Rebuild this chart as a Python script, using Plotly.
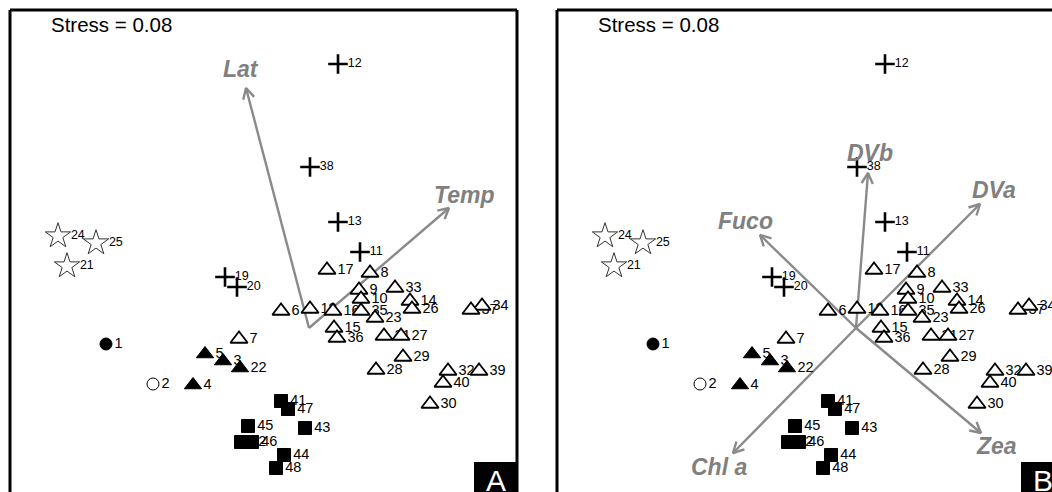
import math
import plotly.graph_objects as go

# ---- NMDS site scores (48 sites) ----
site_ids = list(range(1, 49))
nmds1 = [-0.812, -0.624, -0.344, -0.464, -0.416, -0.112, -0.280, 0.244, 0.200, 0.208,
         0.204, 0.116, 0.116, 0.404, 0.100, 0.096, 0.072, 0.004, -0.336, -0.288,
         -0.968, -0.276, 0.264, -1.004, -0.852, 0.412, 0.368, 0.268, 0.376, 0.484,
         0.300, 0.556, 0.344, 0.692, 0.208, 0.112, 0.648, 0.004, 0.680, 0.536,
         -0.112, -0.272, -0.016, -0.100, -0.244, -0.228, -0.084, -0.132]
nmds2 = [-0.064, -0.224, -0.132, -0.228, -0.104, 0.068, -0.044, 0.220, 0.152, 0.116,
         0.304, 1.056, 0.424, 0.108, 0.000, 0.068, 0.232, 0.076, 0.204, 0.164,
         0.248, -0.160, 0.040, 0.368, 0.340, 0.076, -0.032, -0.168, -0.116, -0.304,
         -0.032, -0.172, 0.160, 0.088, 0.068, -0.040, 0.072, 0.644, -0.172, -0.220,
         -0.292, -0.456, -0.400, -0.508, -0.392, -0.456, -0.324, -0.560]
site_group = ["dot", "ring", "tri_fill", "tri_fill", "tri_fill", "tri", "tri", "tri", "tri", "tri",
              "plus", "plus", "plus", "tri", "tri", "tri", "tri", "tri", "plus", "plus",
              "star", "tri_fill", "tri", "star", "star", "tri", "tri", "tri", "tri", "tri",
              "tri", "tri", "tri", "tri", "tri", "tri", "tri", "plus", "tri", "tri",
              "sq", "sq", "sq", "sq", "sq", "sq", "sq", "sq"]

# ---- fitted vectors ----
env_names = ["Lat", "Temp"]
env_x = [-0.252, 0.560]
env_y = [0.960, 0.480]

pig_names = ["DVb", "DVa", "Fuco", "Chl a", "Zea"]
pig_x = [0.048, 0.496, -0.384, -0.492, 0.500]
pig_y = [0.620, 0.496, 0.372, -0.500, -0.420]

stress = 0.08

# ---- layout geometry ----
W, H = 1052, 492
SCALE = 250.0                      # px per NMDS unit (same on both axes)
X_LO = -1.196
Y_RANGE = [-0.656, 1.272]
A_DOM = [10 / W, 517 / W]
B_DOM = [557 / W, 1.0]
Y_DOM = [0.0, 482 / H]
FONT = "Liberation Sans, Arial, Helvetica, sans-serif"
ARROW_COL = "#8a8a8a"

styles = {
    "dot":      dict(symbol="circle", size=12, color="black", line=dict(color="black", width=1), fs=14.5),
    "ring":     dict(symbol="circle", size=12, color="white", line=dict(color="black", width=1), fs=14.5),
    "tri_fill": dict(symbol="triangle-up", size=15, color="black", line=dict(color="black", width=1), fs=14.5),
    "tri":      dict(symbol="triangle-up", size=15, color="white", line=dict(color="black", width=1.8), fs=14.5),
    "plus":     dict(symbol="cross-thin", size=14, color="black", line=dict(color="black", width=2.6), fs=12.5),
    "star":     dict(symbol="star", size=19, color="white", line=dict(color="#333333", width=1), fs=12.5),
    "sq":       dict(symbol="square", size=13, color="black", line=dict(color="black", width=1), fs=14.5),
}
draw_order = ["star", "plus", "tri", "dot", "ring", "tri_fill", "sq"]

fig = go.Figure()


def add_panel(xa, ya, names, vx, vy):
    # arrows first so sites sit on top of them
    head = 12 / SCALE
    ang = math.radians(28)
    for name, x, y in zip(names, vx, vy):
        th = math.atan2(y, x) + math.pi
        hx1, hy1 = x + head * math.cos(th + ang), y + head * math.sin(th + ang)
        hx2, hy2 = x + head * math.cos(th - ang), y + head * math.sin(th - ang)
        fig.add_trace(go.Scatter(
            x=[0, x, None, hx1, x, hx2], y=[0, y, None, hy1, y, hy2],
            mode="lines", line=dict(color=ARROW_COL, width=2.4),
            xaxis=xa, yaxis=ya, showlegend=False, hoverinfo="skip"))
        n = math.hypot(x, y)
        off = 20 / SCALE
        lx, ly = x + off * x / n, y + off * y / n
        fig.add_annotation(x=lx, y=ly, xref=xa, yref=ya, text=f"<b><i>{name}</i></b>",
                           showarrow=False, xanchor="center", yanchor="middle",
                           font=dict(family=FONT, size=23, color="#808080"))

    # site labels (drawn beneath the symbols)
    for g in draw_order:
        st = styles[g]
        idx = [i for i, s in enumerate(site_group) if s == g]
        fig.add_trace(go.Scatter(
            x=[nmds1[i] for i in idx], y=[nmds2[i] for i in idx],
            text=[str(site_ids[i]) for i in idx], mode="markers+text",
            textposition="middle right",
            textfont=dict(family=FONT, size=st["fs"], color="black"),
            marker=dict(symbol="circle", size=st["size"], color="rgba(0,0,0,0)"),
            xaxis=xa, yaxis=ya, showlegend=False, hoverinfo="skip"))
    # site symbols
    for g in draw_order:
        st = styles[g]
        idx = [i for i, s in enumerate(site_group) if s == g]
        fig.add_trace(go.Scatter(
            x=[nmds1[i] for i in idx], y=[nmds2[i] for i in idx],
            mode="markers",
            marker=dict(symbol=st["symbol"], size=st["size"], color=st["color"], line=st["line"]),
            xaxis=xa, yaxis=ya, showlegend=False,
            hovertext=[str(site_ids[i]) for i in idx], hoverinfo="text"))


add_panel("x", "y", env_names, env_x, env_y)
add_panel("x2", "y2", pig_names, pig_x, pig_y)

axis_common = dict(showgrid=False, zeroline=False, showticklabels=False, ticks="",
                   showline=False, fixedrange=True)
fig.update_layout(
    width=W, height=H,
    margin=dict(l=0, r=0, t=0, b=0),
    paper_bgcolor="white", plot_bgcolor="white",
    xaxis=dict(domain=A_DOM, range=[X_LO, X_LO + (A_DOM[1] - A_DOM[0]) * W / SCALE],
               anchor="y", **axis_common),
    yaxis=dict(domain=Y_DOM, range=Y_RANGE, anchor="x", **axis_common),
    xaxis2=dict(domain=B_DOM, range=[X_LO, X_LO + (B_DOM[1] - B_DOM[0]) * W / SCALE],
                anchor="y2", **axis_common),
    yaxis2=dict(domain=Y_DOM, range=Y_RANGE, anchor="x2", **axis_common),
)

# panel frames (left/top/right of A, left/top of B)
frame = dict(color="black", width=3)
top = Y_DOM[1]
for (x0, y0, x1, y1) in [
    (A_DOM[0], 0, A_DOM[0], top), (A_DOM[0], top, A_DOM[1], top), (A_DOM[1], 0, A_DOM[1], top),
    (B_DOM[0], 0, B_DOM[0], top), (B_DOM[0], top, 1.0, top),
]:
    fig.add_shape(type="line", xref="paper", yref="paper", x0=x0, y0=y0, x1=x1, y1=y1, line=frame)

# stress text and panel letters
for xpx in (49, 596):
    fig.add_annotation(x=xpx / W, y=(H - 25) / H, xref="paper", yref="paper",
                       text=f"Stress = {stress:.2f}", showarrow=False,
                       xanchor="left", yanchor="middle",
                       font=dict(family=FONT, size=20.5, color="black"))

for letter, x0px, x1px in (("A", 474, 517), ("B", 1021, 1064)):
    fig.add_shape(type="rect", xref="paper", yref="paper",
                  x0=x0px / W, x1=min(x1px / W, 1.0), y0=0, y1=30 / H,
                  fillcolor="black", line=dict(width=0))
    fig.add_annotation(x=(x0px + x1px) / 2 / W, y=12 / H, xref="paper", yref="paper",
                       text=letter, showarrow=False, xanchor="center", yanchor="middle",
                       font=dict(family=FONT, size=30, color="white"))

fig.write_html("out.html")
